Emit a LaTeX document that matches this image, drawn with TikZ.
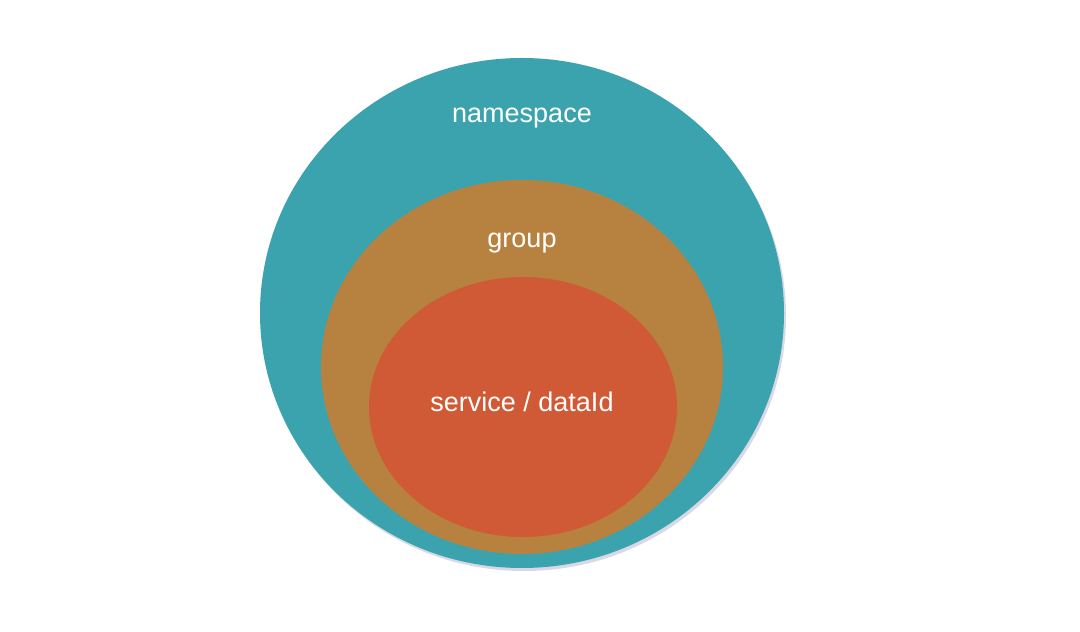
\documentclass[tikz,border=0pt]{standalone}
\usepackage{fontspec}
\setmainfont{Liberation Sans}
\usetikzlibrary{shadows}
\definecolor{nsteal}{HTML}{3BA3AE}
\definecolor{grpbrown}{HTML}{B78240}
\definecolor{svcred}{HTML}{D05A35}
\definecolor{shadowgray}{HTML}{8E8FB8}
\tikzset{
  layerlabel/.style={text=white, font=\fontsize{27}{32}\selectfont, inner sep=0pt}
}
\begin{document}
\begin{tikzpicture}[x=1pt,y=1pt]
        % Page frame
        \useasboundingbox (0,0) rectangle (1080,632);
        
        % Outer layer: namespace
        \fill[nsteal, drop shadow={shadow xshift=2pt, shadow yshift=-3pt, opacity=0.35, fill=shadowgray}] (522,319) ellipse (262 and 255);
        
        % Middle layer: group
        \fill[grpbrown] (522,265) ellipse (201 and 187);
        
        % Inner layer: service / dataId
        \fill[svcred] (523,225) ellipse (154 and 130);
        
        % Labels
        \node[layerlabel] (namespace) at (522,514) {namespace};
        \node[layerlabel] (group) at (522,389) {group};
        \node[layerlabel] (service) at (522,230) {service / dataId};
    \end{tikzpicture}
\end{document}
